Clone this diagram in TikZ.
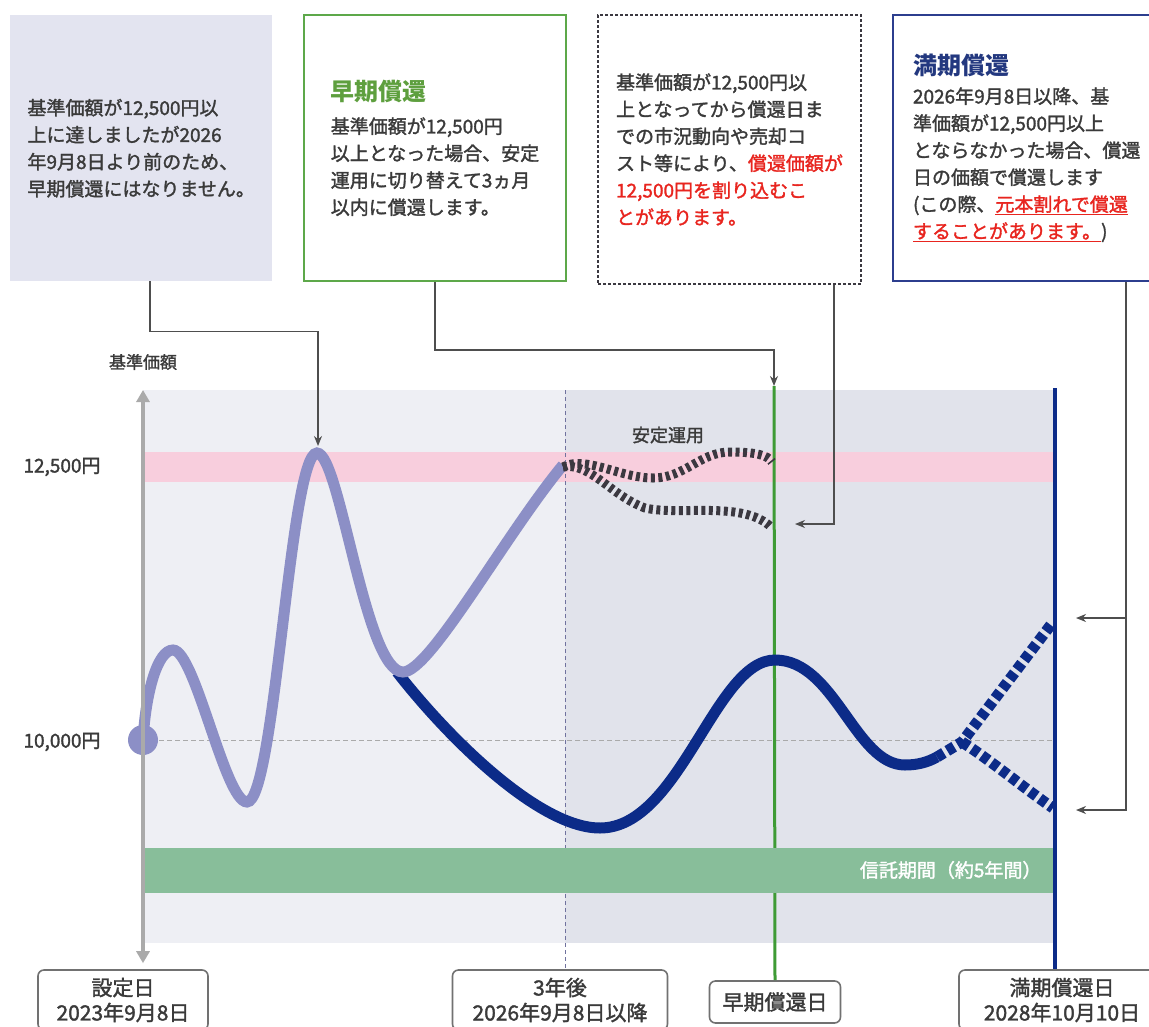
\documentclass[tikz,border=0pt]{standalone}
\usepackage{fontspec}
\setmainfont{Noto Sans CJK JP}[UprightFeatures={FakeBold=1.6}]
\usetikzlibrary{arrows.meta,positioning}

\definecolor{textgray}{HTML}{3A3A3A}
\definecolor{conngray}{HTML}{4E4E4E}
\definecolor{boxgray}{HTML}{E3E4F0}
\definecolor{boxgreen}{HTML}{5DA84A}
\definecolor{titlegreen}{HTML}{5E9F3E}
\definecolor{boxnavy}{HTML}{2C3E8E}
\definecolor{titlenavy}{HTML}{23387F}
\definecolor{redtxt}{HTML}{E8251F}
\definecolor{bgleft}{HTML}{EEEFF4}
\definecolor{bgright}{HTML}{E1E3EB}
\definecolor{pinkband}{HTML}{F8CEDD}
\definecolor{trustgreen}{HTML}{88BE9A}
\definecolor{linegreen}{HTML}{3E9B35}
\definecolor{navy}{HTML}{0C2B88}
\definecolor{lilac}{HTML}{8C8FC6}
\definecolor{darkdots}{HTML}{3B3840}
\definecolor{axisgray}{HTML}{AAAAAA}

\begin{document}
\begin{tikzpicture}[x=1pt,y=-1pt,
    txt/.style={font=\fontsize{19}{27}\selectfont,text=textgray,align=left},
    msgbox/.style={txt,minimum width=262pt,minimum height=266pt,inner sep=0pt,anchor=north west},
    datebox/.style={draw=conngray!80,line width=1.6pt,rounded corners=6pt,fill=white,align=center,
      font=\fontsize{21}{25}\selectfont,text=textgray,inner sep=0pt},
    conn/.style={draw=conngray,line width=1.6pt,-{Stealth[length=10pt,width=8pt]}},
    lbl/.style={font=\fontsize{19}{22}\selectfont,text=textgray},
    price/.style={line width=11pt},
    navydots/.style={draw=navy,line width=11pt,dash pattern=on 8pt off 4pt},
    greydots/.style={draw=darkdots,line width=9pt,dash pattern=on 4pt off 3.5pt}]
  \useasboundingbox (0,0) rectangle (1149,1026);
  \fill[white] (0,0) rectangle (1149,1026);

  % message boxes
  \node[msgbox,fill=boxgray] (box_1) at (10,15)
    {基準価額が12,500円以\\上に達しましたが2026\\年9月8日より前のため、\\早期償還にはなりません。};
  \node[msgbox,draw=boxgreen,line width=2pt] (box_2) at (303,14)
    {{\fontsize{24}{28}\selectfont\bfseries\color{titlegreen}早期償還}\\[6pt]
     基準価額が12,500円\\以上となった場合、安定\\運用に切り替えて3ヵ月\\以内に償還します。};
  \node[msgbox,minimum width=263pt,minimum height=269pt,draw=darkdots,line width=2pt,
        dash pattern=on 3pt off 2pt] (box_3) at (597,14)
    {基準価額が12,500円以\\上となってから償還日ま\\での市況動向や売却コ\\
     スト等により、\textcolor{redtxt}{償還価額が}\\
     \textcolor{redtxt}{12,500円を割り込むこ}\\\textcolor{redtxt}{とがあります。}};
  \node[msgbox,minimum width=275pt,text width=235pt,draw=boxnavy,line width=2pt] (box_4) at (892,14)
    {{\fontsize{24}{28}\selectfont\bfseries\color{titlenavy}満期償還}\\[2pt]
     2026年9月8日以降、基\\準価額が12,500円以上\\とならなかった場合、償還\\日の価額で償還します\\
     (この際、\textcolor{redtxt}{\underline{元本割れで償還}}\\
     \textcolor{redtxt}{\underline{することがあります。}})};

  % date boxes
  \node[datebox,minimum width=170pt,minimum height=60pt] (d_set) at (123,1000) {設定日\\2023年9月8日};
  \node[datebox,minimum width=215pt,minimum height=60pt] (d_3y) at (560,1000) {3年後\\2026年9月8日以降};
  \node[datebox,minimum width=131pt,minimum height=42pt] (d_early) at (775,1002) {早期償還日};
  \node[datebox,minimum width=206pt,minimum height=60pt] (d_mat) at (1062,1000) {満期償還日\\2028年10月10日};

  % chart area
  \fill[bgleft] (143,390) rectangle (565,943);
  \fill[bgright] (565,390) rectangle (1053,943);
  \fill[pinkband] (143,452) rectangle (1053,482);
  \draw[axisgray,line width=1pt,dash pattern=on 5pt off 3pt] (143,740) -- (1053,740);
  \coordinate (t_3y) at (565,390);
  \coordinate (t_early) at (774,386);
  \coordinate (t_mat) at (1055,388);
  \draw[draw=lilac!80!black,line width=1pt,dash pattern=on 4pt off 3pt] (t_3y) -- (d_3y.north -| t_3y);
  \draw[draw=linegreen,line width=3pt] (t_early) -- (d_early.north);
  \fill[trustgreen] (143,848) rectangle (1053,893);
  \node[lbl,text=white,anchor=east] (trust) at (1045,870) {信託期間（約5年間）};
  \draw[draw=navy,line width=4pt] (t_mat) -- (d_mat.north -| t_mat);

  % price paths
  \draw[price,navy] (397,672) .. controls (450,740) and (540,828) .. (600,828)
    .. controls (680,828) and (715,660) .. (775,660)
    .. controls (835,660) and (855,765) .. (905,765)
    .. controls (918,765) and (928,762) .. (937,757);
  \draw[navydots] (937,757) -- (962,742) -- (1053,622);
  \draw[navydots] (962,742) .. controls (990,760) and (1020,785) .. (1053,808);
  \draw[price,lilac] (143,740) .. controls (146,690) and (158,650) .. (173,650)
    .. controls (195,650) and (225,802) .. (247,802)
    .. controls (275,802) and (290,453) .. (317,453)
    .. controls (340,453) and (365,672) .. (403,672)
    .. controls (430,672) and (505,535) .. (563,465);
  \fill[lilac] (143,740) circle (15pt);
  \draw[greydots] (563,467) .. controls (585,455) and (620,478) .. (653,478)
    .. controls (685,478) and (700,452) .. (730,452) .. controls (755,452) and (768,455) .. (772,462);
  \draw[greydots] (563,467) .. controls (590,462) and (610,495) .. (645,508)
    .. controls (680,516) and (745,500) .. (772,528);
  \node[lbl,font=\fontsize{18}{20}\selectfont] (stable) at (668,435) {安定運用};

  % axis
  \coordinate (y_top) at (143,390);
  \draw[axisgray,line width=4pt,{Triangle[width=13pt,length=12pt]}-{Triangle[width=13pt,length=12pt]},
        shorten <=6pt] (d_set.north -| y_top) -- (y_top);
  \node[lbl,font=\fontsize{17}{20}\selectfont] (ylab) at (143,362) {基準価額};
  \node[lbl] (l_high) at (62,467) {12,500円};
  \node[lbl] (l_base) at (62,742) {10,000円};

  % connectors
  \coordinate (peak) at (318,446);
  \coordinate (low_end) at (795,524);
  \coordinate (m_hi) at (1076,618);
  \coordinate (m_lo) at (1076,810);
  \draw[conn] ([xshift=9pt]box_1.south) -- ++(0,50) -| (peak);
  \draw[conn] (box_2.south) -- ++(0,68) -| (t_early);
  \draw[conn] ([xshift=104.5pt]box_3.south) |- (low_end);
  \draw[conn] ([xshift=95.5pt]box_4.south) |- (m_hi);
  \draw[conn] ([xshift=95.5pt]box_4.south) |- (m_lo);
\end{tikzpicture}
\end{document}
